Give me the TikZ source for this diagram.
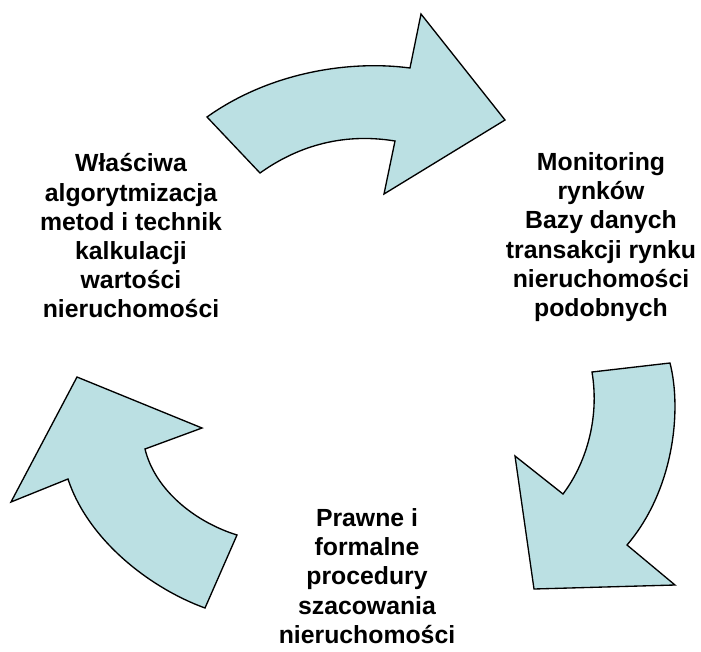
\documentclass[tikz,border=0pt]{standalone}
\usepackage{fontspec}
\setmainfont{Liberation Sans}
\usepackage{xcolor}
\usepackage{tikz}
\definecolor{arrowfill}{RGB}{187,224,227}
\tikzstyle{stage} = [align=center, font=\bfseries\fontsize{18.6}{21.9}\selectfont, inner sep=0pt]
\tikzstyle{bigarrow} = [draw=black, fill=arrowfill, line width=1pt, line join=miter]

\begin{document}
\begin{tikzpicture}[x=0.75pt, y=-0.75pt]
      \useasboundingbox (0,0) rectangle (701,651);
      % Stages
      \node [stage] (algo) at (131,236) {Właściwa\\algorytmizacja\\metod i technik\\kalkulacji\\wartości\\nieruchomości};
      \node [stage] (monitor) at (601,237) {Monitoring\\rynków\\Bazy danych\\transakcji rynku\\nieruchomości\\podobnych};
      \node [stage] (proc) at (367,576) {Prawne i\\formalne\\procedury\\szacowania\\nieruchomości};
      % Draw arrows
      \path [bigarrow] (207,117) .. controls (270,72) and (350,60) .. (410,68)
          -- (421,14) -- (505,120) -- (384,194) -- (395,141)
          .. controls (340,132) and (295,148) .. (260,173) -- cycle;
      \path [bigarrow] (592,372) -- (670,363) .. controls (682,410) and (674,490) .. (627,545)
          -- (675,585) -- (534,589) -- (515,456) -- (563,494)
          .. controls (585,465) and (600,420) .. (592,372) -- cycle;
      \path [bigarrow] (77,377) -- (202,428) -- (145,449)
          .. controls (155,490) and (195,522) .. (237,535) -- (205,608)
          .. controls (150,588) and (88,540) .. (68,479) -- (11,502) -- cycle;
  \end{tikzpicture}
\end{document}
